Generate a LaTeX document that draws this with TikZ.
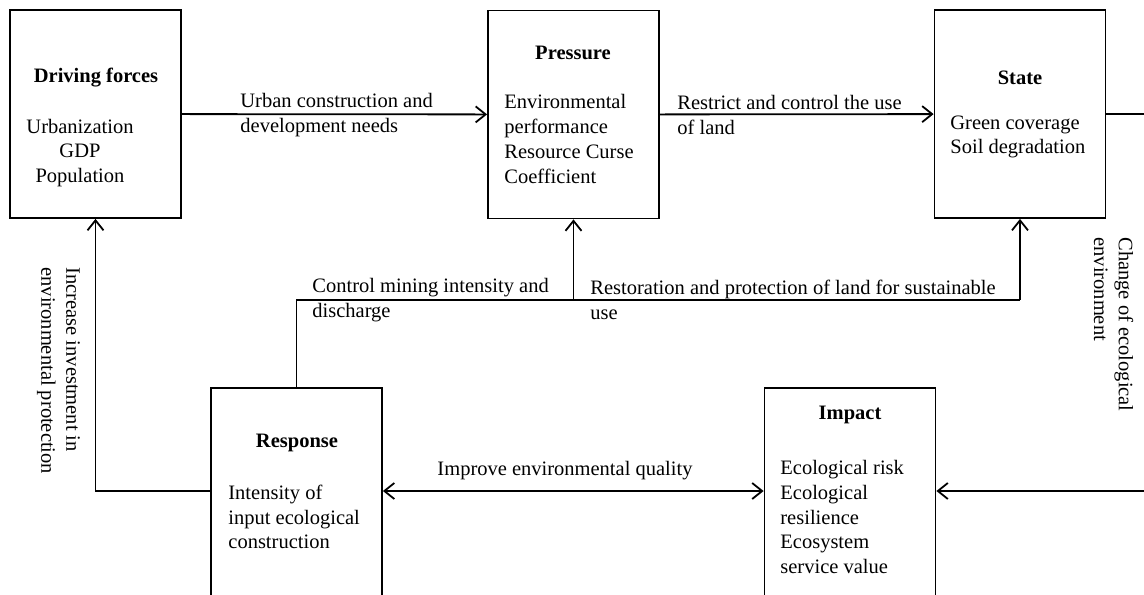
\documentclass[tikz,border=0pt]{standalone}
\usepackage{fontspec}
\setmainfont{Liberation Serif}
\usetikzlibrary{arrows.meta,positioning,calc}

\tikzset{
  box/.style={draw, line width=0.9pt, minimum width=85.5pt, minimum height=104pt, inner sep=0pt},
  lowbox/.style={box, minimum height=115pt, anchor=north},
  txt/.style={inner sep=0pt, align=left, font=\fontsize{10.25pt}{12.4pt}\selectfont},
  ttl/.style={inner sep=0pt, font=\fontsize{10.25pt}{12.4pt}\selectfont\bfseries},
  link/.style={line width=0.9pt},
  arr/.style={link, -{Straight Barb[length=5pt,width=8pt]}},
  dblarr/.style={link, {Straight Barb[length=5pt,width=8pt]}-{Straight Barb[length=5pt,width=8pt]}},
}

\begin{document}
\begin{tikzpicture}[x=0.5pt, y=-0.5pt]
            \useasboundingbox (0,0) rectangle (1144,594);
            \clip (0,0) rectangle (1144,594);

            % Boxes
            \node[box] (drv) at (95.5,114) {};
            \node[box] (prs) at (573.5,114.5) {};
            \node[box] (sta) at (1020,114) {};
            \node[lowbox] (rsp) at (296.5,387) {};
            \node[lowbox] (imp) at (850,387) {};

            % Box texts
            \node[ttl] (drvT) at (96,78) {Driving forces};
            \node[txt, align=center] (drvB) at (80,153) {Urbanization\\GDP\\Population};
            \node[ttl] (prsT) at (573,53) {Pressure};
            \node[txt, anchor=west] (prsB) at (504,139) {Environmental\\performance\\Resource Curse\\Coefficient};
            \node[ttl] (staT) at (1020,78) {State};
            \node[txt, anchor=west] (staB) at (950,137) {Green coverage\\Soil degradation};
            \node[ttl] (rspT) at (297,443) {Response};
            \node[txt, anchor=west] (rspB) at (228,517) {Intensity of\\input ecological\\construction};
            \node[ttl] (impT) at (850,415) {Impact};
            \node[txt, anchor=west] (impB) at (780,517) {Ecological risk\\Ecological\\resilience\\Ecosystem\\service value};

            % Top row
            \draw[arr] (drv) -- (prs);
            \node[txt, anchor=west] (lblUrban) at (240,115) {Urban construction and\\development needs};
            \draw[arr] (prs) -- (sta);
            \node[txt, anchor=west] (lblLand) at (677,115) {Restrict and control the use\\of land};

            % Right side
            \coordinate (outTop) at (1144,114);
            \coordinate (outBot) at (1144,491);
            \coordinate (impR) at (imp.east |- outBot);
            \draw[link] (sta.east) -- (outTop);
            \draw[arr] (outBot) -- (impR);
            \node[txt, rotate=-90, anchor=west] (lblChange) at (1113.5,237) {Change of ecological\\environment};

            % Response feedback
            \coordinate (jnL) at (rsp.north |- 0,300);
            \coordinate (jnR) at (sta.south |- 0,300);
            \draw[link] (rsp.north) -- (jnL) -- (jnR);
            \draw[arr] (prs.south |- jnL) -- (prs.south);
            \draw[arr] (jnR) -- (sta.south);
            \node[txt, anchor=west] (lblMine) at (312,300) {Control mining intensity and\\discharge};
            \node[txt, anchor=west] (lblRest) at (590,300) {Restoration and protection of land for sustainable\\use};

            \coordinate (rspL) at (rsp.west |- outBot);
            \coordinate (rspR) at (rsp.east |- outBot);
            \coordinate (impL) at (imp.west |- outBot);
            \draw[arr] (rspL) -| (drv.south);
            \node[txt, rotate=-90, anchor=west] (lblInvest) at (58.5,267) {Increase investment in\\environmental protection};

            % Bottom row
            \draw[dblarr] (rspR) -- (impL);
            \node[txt] (lblImprove) at (565,471) {Improve environmental quality};
\end{tikzpicture}
\end{document}
